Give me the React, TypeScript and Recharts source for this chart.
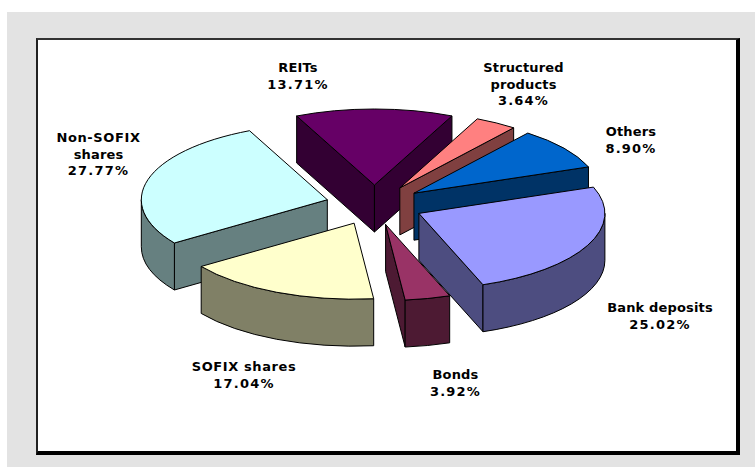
import { PieChart, Pie } from "recharts";

const categories = [
  "Non-SOFIX\nshares",
  "REITs",
  "Structured\nproducts",
  "Others",
  "Bank deposits",
  "Bonds",
  "SOFIX shares",
];
const shares = [27.77, 13.71, 3.64, 8.9, 25.02, 3.92, 17.04];
const topColors = ["#CCFFFF", "#660066", "#FF8080", "#0066CC", "#9999FF", "#993366", "#FFFFCC"];
const wallColors = ["#668080", "#330033", "#804040", "#003366", "#4D4D80", "#4D1A33", "#808066"];

const data = categories.map((name, i) => ({ name, value: shares[i], fill: topColors[i] }));

// centre x and first baseline of each label, same order as categories
const labelSpots = [
  [98.5, 142],
  [298, 72],
  [523.5, 72],
  [631, 136],
  [660, 312],
  [455.5, 379],
  [244, 371],
];

const SQUASH = 76 / 186;
const DEPTH = 47;
const EXPLODE = 0.263;

const PieSlice = (props: any) => {
  const { cx, cy, outerRadius, startAngle, endAngle, index } = props;
  const rx = outerRadius;
  const ry = outerRadius * SQUASH;

  // angles clockwise from 12 o'clock
  let a1 = 90 - startAngle;
  let a2 = 90 - endAngle;
  if (a1 < 0) {
    a1 += 360;
    a2 += 360;
  }
  const mid = (a1 + a2) / 2;
  const rad = (d: number) => (d * Math.PI) / 180;
  const ax = cx + EXPLODE * rx * Math.sin(rad(mid));
  const ay = cy - EXPLODE * ry * Math.cos(rad(mid));
  const pt = (d: number) => [ax + rx * Math.sin(rad(d)), ay - ry * Math.cos(rad(d))];

  const [x1, y1] = pt(a1);
  const [x2, y2] = pt(a2);
  const wall = wallColors[index];
  const faces = { fill: wall, stroke: "#000", strokeWidth: 1, strokeLinejoin: "round" as const };

  const from = Math.max(a1, 90);
  const to = Math.min(a2, 270);
  const [cx1, cy1] = pt(from);
  const [cx2, cy2] = pt(to);

  return (
    <g>
      {Math.sin(rad(a1)) < 0 && (
        <path {...faces} d={`M${ax} ${ay}L${x1} ${y1}L${x1} ${y1 + DEPTH}L${ax} ${ay + DEPTH}Z`} />
      )}
      {Math.sin(rad(a2)) > 0 && (
        <path {...faces} d={`M${ax} ${ay}L${x2} ${y2}L${x2} ${y2 + DEPTH}L${ax} ${ay + DEPTH}Z`} />
      )}
      {to > from && (
        <path
          {...faces}
          d={`M${cx1} ${cy1}A${rx} ${ry} 0 0 1 ${cx2} ${cy2}L${cx2} ${cy2 + DEPTH}A${rx} ${ry} 0 0 0 ${cx1} ${cy1 + DEPTH}Z`}
        />
      )}
      <path
        d={`M${ax} ${ay}L${x1} ${y1}A${rx} ${ry} 0 ${a2 - a1 > 180 ? 1 : 0} 1 ${x2} ${y2}Z`}
        fill={props.fill}
        stroke="#000"
        strokeWidth={1}
        strokeLinejoin="round"
      />
    </g>
  );
};

// the original font runs wider on digits and capitals
const spacingFor = (line: string) => {
  if (line.endsWith("%")) return 1.2;
  if (line.includes("SOFIX")) return 0.6;
  return 0.15;
};

const SliceLabel = (props: any) => {
  const { index } = props;
  const [x, y] = labelSpots[index];
  const lines = [...categories[index].split("\n"), `${shares[index].toFixed(2)}%`];
  return (
    <text
      x={x}
      y={y}
      textAnchor="middle"
      fontFamily="DejaVu Sans"
      fontWeight="bold"
      fontSize={13}
      fill="#000"
    >
      {lines.map((line, i) => (
        <tspan key={line} x={x} y={y + i * 16.7} letterSpacing={spacingFor(line)}>
          {line}
        </tspan>
      ))}
    </text>
  );
};

const App = () => {
  return (
    <div style={{ position: "absolute", left: 0, top: 0, width: 755, height: 467, overflow: "hidden", background: "#fff" }}>
      <div style={{ position: "absolute", left: 7, top: 12, width: 748, height: 455, background: "#E3E3E3" }} />
      <div
        style={{
          position: "absolute",
          left: 36,
          top: 38,
          width: 698,
          height: 411,
          background: "#fff",
          borderLeft: "2px solid #222",
          borderTop: "2px solid #333",
          borderRight: "4px solid #000",
          borderBottom: "4px solid #000",
        }}
      />
      <div style={{ position: "absolute", left: 0, top: 0 }}>
        <PieChart width={755} height={467} margin={{ top: 0, right: 0, bottom: 0, left: 0 }}>
          <Pie
            data={data}
            dataKey="value"
            nameKey="name"
            cx={374.5}
            cy={205}
            outerRadius={186}
            startAngle={214.7}
            endAngle={-145.3}
            shape={PieSlice}
            label={SliceLabel}
            labelLine={false}
            isAnimationActive={false}
          />
        </PieChart>
      </div>
    </div>
  );
};

export default App;
